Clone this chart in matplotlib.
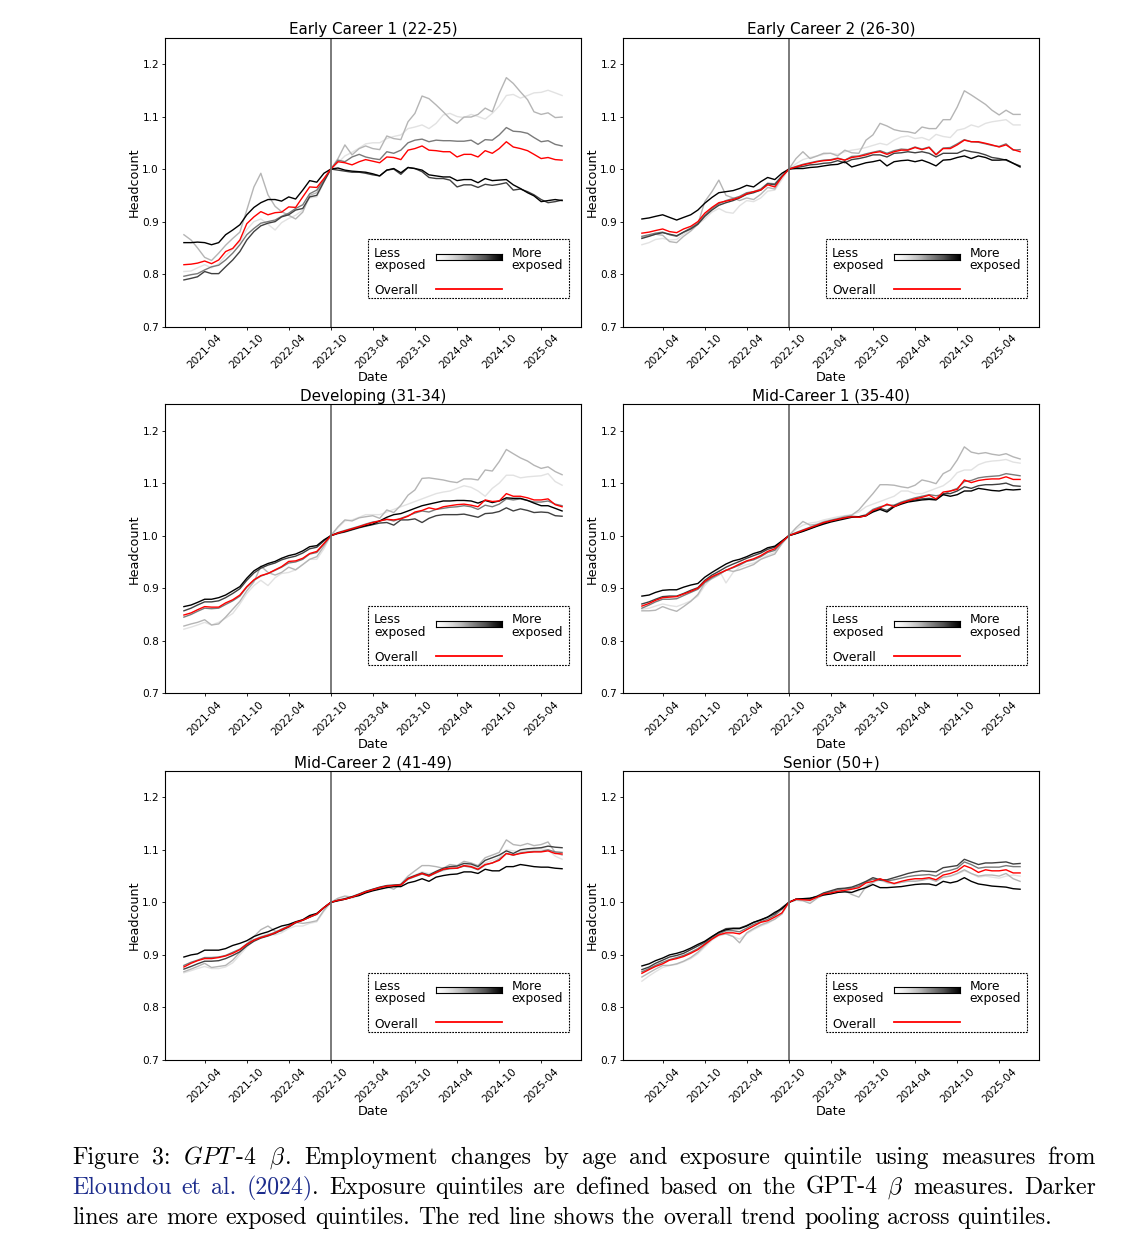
import numpy as np
import pandas as pd
import matplotlib
matplotlib.use("Agg")
import matplotlib.pyplot as plt
import matplotlib.dates as mdates
from matplotlib.patches import Rectangle
from matplotlib.lines import Line2D
from matplotlib.font_manager import FontProperties

plt.rcParams['mathtext.fontset'] = 'cm'

# --- eixos / rótulos ---
dates = pd.date_range('2021-01-01', periods=55, freq='MS')
tick_dates = pd.date_range('2021-04-01', '2025-04-01', freq='6MS')
release_date = pd.Timestamp('2022-10-01')
y_ticks = [0.7, 0.8, 0.9, 1.0, 1.1, 1.2]

panel_titles = ['Early Career 1 (22-25)', 'Early Career 2 (26-30)', 'Developing (31-34)',
                'Mid-Career 1 (35-40)', 'Mid-Career 2 (41-49)', 'Senior (50+)']

# --- dados (headcount normalizado, mensal 2021-01 .. 2025-07) ---
early1_q1 = [0.805, 0.806, 0.812, 0.818, 0.812, 0.820, 0.835, 0.848, 0.862, 0.885, 0.900,
             0.905, 0.895, 0.884, 0.898, 0.906, 0.912, 0.922, 0.945, 0.947, 0.975, 1.000,
             1.012, 1.025, 1.032, 1.040, 1.048, 1.050, 1.050, 1.058, 1.062, 1.065, 1.077,
             1.080, 1.084, 1.077, 1.087, 1.103, 1.106, 1.100, 1.098, 1.104, 1.100, 1.095,
             1.106, 1.120, 1.140, 1.142, 1.135, 1.140, 1.145, 1.146, 1.150, 1.145, 1.140]
early1_q2 = [0.875, 0.865, 0.850, 0.832, 0.826, 0.840, 0.855, 0.868, 0.880, 0.922, 0.966,
             0.992, 0.951, 0.929, 0.919, 0.912, 0.905, 0.918, 0.950, 0.955, 0.980, 1.000,
             1.020, 1.046, 1.027, 1.039, 1.044, 1.039, 1.037, 1.063, 1.058, 1.056, 1.090,
             1.106, 1.139, 1.134, 1.122, 1.109, 1.096, 1.087, 1.099, 1.099, 1.104, 1.116,
             1.109, 1.144, 1.174, 1.163, 1.147, 1.132, 1.109, 1.104, 1.107, 1.098, 1.099]
early1_q3 = [0.796, 0.799, 0.801, 0.808, 0.814, 0.817, 0.827, 0.840, 0.856, 0.875, 0.887,
             0.897, 0.900, 0.903, 0.910, 0.916, 0.925, 0.932, 0.953, 0.960, 0.979, 1.000,
             1.017, 1.014, 1.023, 1.028, 1.023, 1.020, 1.018, 1.033, 1.030, 1.036, 1.050,
             1.055, 1.057, 1.052, 1.055, 1.054, 1.054, 1.053, 1.053, 1.055, 1.047, 1.056,
             1.055, 1.065, 1.079, 1.072, 1.071, 1.068, 1.060, 1.052, 1.054, 1.047, 1.044]
early1_q4 = [0.789, 0.792, 0.795, 0.805, 0.801, 0.801, 0.814, 0.827, 0.843, 0.865, 0.881,
             0.892, 0.897, 0.900, 0.909, 0.913, 0.922, 0.925, 0.947, 0.950, 0.976, 1.000,
             0.998, 0.996, 0.994, 0.994, 0.992, 0.989, 0.987, 0.998, 1.000, 0.990, 1.003,
             1.001, 0.995, 0.984, 0.982, 0.982, 0.979, 0.966, 0.970, 0.970, 0.965, 0.971,
             0.969, 0.971, 0.974, 0.960, 0.962, 0.957, 0.951, 0.942, 0.936, 0.938, 0.941]
early1_q5 = [0.860, 0.860, 0.861, 0.860, 0.856, 0.860, 0.875, 0.884, 0.894, 0.913, 0.927,
             0.936, 0.942, 0.942, 0.939, 0.947, 0.943, 0.960, 0.978, 0.975, 0.992, 1.000,
             1.002, 0.998, 0.996, 0.995, 0.994, 0.991, 0.987, 0.998, 1.001, 0.993, 1.003,
             1.001, 0.998, 0.989, 0.987, 0.985, 0.985, 0.978, 0.980, 0.980, 0.974, 0.982,
             0.978, 0.979, 0.980, 0.970, 0.963, 0.955, 0.949, 0.938, 0.940, 0.942, 0.940]
early1_all = [0.818, 0.819, 0.821, 0.825, 0.820, 0.827, 0.843, 0.849, 0.865, 0.896, 0.909,
              0.919, 0.913, 0.917, 0.918, 0.928, 0.927, 0.947, 0.966, 0.965, 0.982, 1.000,
              1.014, 1.012, 1.008, 1.014, 1.018, 1.015, 1.012, 1.023, 1.022, 1.018, 1.036,
              1.039, 1.044, 1.036, 1.035, 1.033, 1.033, 1.023, 1.028, 1.028, 1.023, 1.035,
              1.030, 1.039, 1.052, 1.042, 1.039, 1.035, 1.028, 1.020, 1.022, 1.018, 1.017]

early2_q1 = [0.856, 0.860, 0.866, 0.868, 0.865, 0.866, 0.876, 0.885, 0.895, 0.905, 0.918,
             0.925, 0.918, 0.916, 0.930, 0.940, 0.938, 0.945, 0.958, 0.960, 0.980, 1.000,
             1.010, 1.018, 1.022, 1.025, 1.028, 1.030, 1.028, 1.033, 1.036, 1.038, 1.041,
             1.045, 1.049, 1.046, 1.055, 1.061, 1.063, 1.058, 1.060, 1.055, 1.066, 1.062,
             1.060, 1.074, 1.077, 1.084, 1.080, 1.087, 1.090, 1.092, 1.094, 1.084, 1.084]
early2_q2 = [0.870, 0.873, 0.876, 0.874, 0.862, 0.860, 0.872, 0.882, 0.895, 0.938, 0.957,
             0.979, 0.950, 0.945, 0.940, 0.945, 0.942, 0.952, 0.965, 0.962, 0.985, 1.000,
             1.020, 1.033, 1.020, 1.025, 1.030, 1.030, 1.025, 1.036, 1.031, 1.030, 1.055,
             1.065, 1.087, 1.082, 1.075, 1.072, 1.071, 1.068, 1.080, 1.077, 1.077, 1.094,
             1.094, 1.118, 1.149, 1.141, 1.132, 1.123, 1.112, 1.103, 1.112, 1.104, 1.104]
early2_q3 = [0.872, 0.875, 0.878, 0.880, 0.875, 0.872, 0.880, 0.888, 0.897, 0.912, 0.925,
             0.934, 0.940, 0.944, 0.948, 0.955, 0.957, 0.962, 0.973, 0.972, 0.987, 1.000,
             1.005, 1.009, 1.012, 1.015, 1.017, 1.018, 1.021, 1.017, 1.024, 1.025, 1.029,
             1.032, 1.035, 1.030, 1.035, 1.038, 1.037, 1.042, 1.038, 1.042, 1.028, 1.040,
             1.041, 1.048, 1.056, 1.052, 1.051, 1.048, 1.045, 1.043, 1.048, 1.036, 1.037]
early2_q4 = [0.868, 0.872, 0.876, 0.879, 0.876, 0.873, 0.880, 0.886, 0.895, 0.910, 0.922,
             0.931, 0.936, 0.940, 0.945, 0.952, 0.955, 0.960, 0.972, 0.970, 0.986, 1.000,
             1.003, 1.005, 1.008, 1.009, 1.011, 1.012, 1.016, 1.012, 1.018, 1.020, 1.023,
             1.027, 1.027, 1.023, 1.030, 1.031, 1.033, 1.031, 1.033, 1.030, 1.023, 1.030,
             1.030, 1.030, 1.036, 1.033, 1.031, 1.027, 1.022, 1.020, 1.017, 1.011, 1.006]
early2_q5 = [0.905, 0.907, 0.910, 0.913, 0.908, 0.903, 0.908, 0.913, 0.922, 0.935, 0.946,
             0.955, 0.957, 0.959, 0.963, 0.969, 0.966, 0.976, 0.984, 0.980, 0.992, 1.000,
             1.001, 1.001, 1.003, 1.004, 1.006, 1.008, 1.009, 1.014, 1.004, 1.008, 1.012,
             1.014, 1.017, 1.006, 1.014, 1.016, 1.017, 1.014, 1.017, 1.012, 1.006, 1.017,
             1.018, 1.022, 1.025, 1.020, 1.025, 1.022, 1.017, 1.017, 1.018, 1.011, 1.004]
early2_all = [0.878, 0.880, 0.883, 0.886, 0.881, 0.879, 0.886, 0.891, 0.900, 0.916, 0.927,
              0.936, 0.939, 0.942, 0.946, 0.953, 0.957, 0.960, 0.970, 0.966, 0.985, 1.000,
              1.004, 1.008, 1.011, 1.014, 1.016, 1.017, 1.020, 1.017, 1.022, 1.024, 1.027,
              1.031, 1.033, 1.028, 1.033, 1.036, 1.036, 1.041, 1.037, 1.041, 1.027, 1.039,
              1.039, 1.046, 1.055, 1.052, 1.052, 1.049, 1.046, 1.042, 1.046, 1.037, 1.033]

developing_q1 = [0.822, 0.826, 0.830, 0.835, 0.830, 0.835, 0.843, 0.852, 0.870, 0.890, 0.905,
                 0.915, 0.905, 0.920, 0.928, 0.930, 0.935, 0.945, 0.955, 0.955, 0.975, 1.000,
                 1.015, 1.028, 1.030, 1.035, 1.040, 1.040, 1.040, 1.045, 1.050, 1.055, 1.060,
                 1.065, 1.070, 1.075, 1.080, 1.083, 1.085, 1.090, 1.095, 1.092, 1.085, 1.075,
                 1.090, 1.100, 1.115, 1.115, 1.110, 1.112, 1.113, 1.114, 1.118, 1.103, 1.096]
developing_q2 = [0.828, 0.832, 0.835, 0.840, 0.830, 0.832, 0.845, 0.860, 0.875, 0.895, 0.912,
                 0.942, 0.930, 0.925, 0.930, 0.940, 0.935, 0.945, 0.955, 0.960, 0.980, 1.000,
                 1.017, 1.030, 1.028, 1.034, 1.036, 1.038, 1.033, 1.049, 1.044, 1.058, 1.077,
                 1.087, 1.109, 1.110, 1.108, 1.106, 1.103, 1.101, 1.108, 1.108, 1.106, 1.125,
                 1.123, 1.141, 1.164, 1.156, 1.148, 1.142, 1.134, 1.128, 1.131, 1.122, 1.116]
developing_q3 = [0.845, 0.850, 0.856, 0.862, 0.861, 0.862, 0.869, 0.876, 0.885, 0.902, 0.915,
                 0.923, 0.928, 0.934, 0.940, 0.948, 0.950, 0.955, 0.965, 0.968, 0.984, 1.000,
                 1.006, 1.010, 1.014, 1.018, 1.022, 1.026, 1.028, 1.031, 1.028, 1.033, 1.038,
                 1.043, 1.047, 1.045, 1.050, 1.052, 1.054, 1.055, 1.057, 1.055, 1.050, 1.058,
                 1.055, 1.060, 1.070, 1.068, 1.070, 1.067, 1.064, 1.064, 1.066, 1.060, 1.057]
developing_q4 = [0.857, 0.862, 0.868, 0.874, 0.874, 0.876, 0.882, 0.890, 0.899, 0.915, 0.929,
                 0.938, 0.944, 0.948, 0.954, 0.958, 0.961, 0.967, 0.975, 0.978, 0.990, 1.000,
                 1.004, 1.007, 1.011, 1.015, 1.018, 1.021, 1.024, 1.025, 1.020, 1.030, 1.030,
                 1.032, 1.025, 1.033, 1.038, 1.040, 1.040, 1.040, 1.041, 1.038, 1.035, 1.042,
                 1.043, 1.046, 1.053, 1.047, 1.051, 1.048, 1.044, 1.045, 1.044, 1.038, 1.037]
developing_q5 = [0.865, 0.868, 0.873, 0.879, 0.879, 0.882, 0.887, 0.895, 0.903, 0.919, 0.933,
                 0.941, 0.947, 0.951, 0.957, 0.962, 0.965, 0.971, 0.979, 0.981, 0.992, 1.000,
                 1.005, 1.008, 1.012, 1.016, 1.019, 1.022, 1.028, 1.035, 1.040, 1.042, 1.047,
                 1.052, 1.057, 1.060, 1.063, 1.066, 1.066, 1.067, 1.067, 1.066, 1.062, 1.067,
                 1.063, 1.066, 1.072, 1.071, 1.071, 1.067, 1.062, 1.057, 1.057, 1.052, 1.047]
developing_all = [0.849, 0.853, 0.859, 0.865, 0.864, 0.864, 0.872, 0.878, 0.887, 0.903, 0.916,
                  0.924, 0.928, 0.935, 0.941, 0.951, 0.952, 0.957, 0.966, 0.970, 0.985, 1.000,
                  1.005, 1.009, 1.013, 1.017, 1.021, 1.025, 1.028, 1.031, 1.030, 1.032, 1.037,
                  1.045, 1.048, 1.053, 1.050, 1.055, 1.057, 1.059, 1.060, 1.058, 1.055, 1.068,
                  1.065, 1.066, 1.080, 1.075, 1.075, 1.072, 1.068, 1.068, 1.070, 1.059, 1.055]

mid1_q1 = [0.860, 0.862, 0.866, 0.870, 0.867, 0.865, 0.870, 0.876, 0.885, 0.905, 0.920,
           0.935, 0.910, 0.930, 0.940, 0.945, 0.948, 0.955, 0.963, 0.968, 0.984, 1.000,
           1.012, 1.020, 1.024, 1.026, 1.030, 1.033, 1.036, 1.038, 1.040, 1.045, 1.055,
           1.060, 1.065, 1.070, 1.075, 1.085, 1.085, 1.080, 1.080, 1.085, 1.090, 1.095,
           1.105, 1.120, 1.125, 1.125, 1.135, 1.140, 1.142, 1.143, 1.145, 1.140, 1.138]
mid1_q2 = [0.857, 0.857, 0.858, 0.865, 0.860, 0.856, 0.865, 0.875, 0.888, 0.910, 0.918,
           0.925, 0.935, 0.932, 0.935, 0.940, 0.945, 0.955, 0.960, 0.965, 0.985, 1.000,
           1.015, 1.027, 1.020, 1.022, 1.027, 1.030, 1.033, 1.037, 1.039, 1.049, 1.065,
           1.080, 1.097, 1.097, 1.096, 1.093, 1.091, 1.096, 1.106, 1.103, 1.099, 1.118,
           1.125, 1.144, 1.169, 1.159, 1.156, 1.158, 1.155, 1.153, 1.156, 1.150, 1.146]
mid1_q3 = [0.862, 0.868, 0.874, 0.879, 0.879, 0.880, 0.886, 0.892, 0.898, 0.911, 0.920,
           0.927, 0.934, 0.939, 0.944, 0.951, 0.954, 0.960, 0.968, 0.972, 0.987, 1.000,
           1.006, 1.011, 1.016, 1.021, 1.025, 1.029, 1.032, 1.035, 1.037, 1.036, 1.040,
           1.050, 1.055, 1.058, 1.058, 1.064, 1.068, 1.072, 1.075, 1.078, 1.076, 1.078,
           1.085, 1.090, 1.103, 1.105, 1.110, 1.112, 1.113, 1.114, 1.118, 1.116, 1.114]
mid1_q4 = [0.870, 0.874, 0.879, 0.884, 0.885, 0.885, 0.890, 0.896, 0.901, 0.915, 0.925,
           0.932, 0.940, 0.946, 0.951, 0.957, 0.962, 0.967, 0.974, 0.978, 0.989, 1.000,
           1.004, 1.009, 1.014, 1.019, 1.024, 1.028, 1.031, 1.034, 1.036, 1.035, 1.038,
           1.047, 1.052, 1.048, 1.057, 1.062, 1.066, 1.068, 1.070, 1.071, 1.069, 1.080,
           1.080, 1.085, 1.093, 1.090, 1.095, 1.097, 1.097, 1.098, 1.100, 1.095, 1.094]
mid1_q5 = [0.885, 0.887, 0.892, 0.896, 0.897, 0.897, 0.902, 0.906, 0.909, 0.921, 0.930,
           0.938, 0.946, 0.952, 0.955, 0.960, 0.966, 0.970, 0.977, 0.980, 0.990, 1.000,
           1.004, 1.008, 1.013, 1.018, 1.022, 1.026, 1.029, 1.032, 1.035, 1.036, 1.038,
           1.045, 1.050, 1.045, 1.055, 1.060, 1.064, 1.066, 1.068, 1.069, 1.068, 1.078,
           1.075, 1.078, 1.085, 1.085, 1.090, 1.088, 1.086, 1.085, 1.088, 1.087, 1.088]
mid1_all = [0.866, 0.871, 0.877, 0.882, 0.883, 0.884, 0.889, 0.894, 0.900, 0.913, 0.922,
            0.928, 0.934, 0.940, 0.946, 0.952, 0.956, 0.962, 0.970, 0.975, 0.988, 1.000,
            1.005, 1.010, 1.015, 1.020, 1.025, 1.028, 1.031, 1.034, 1.036, 1.035, 1.038,
            1.048, 1.053, 1.060, 1.055, 1.062, 1.066, 1.070, 1.073, 1.077, 1.070, 1.083,
            1.085, 1.088, 1.106, 1.101, 1.105, 1.107, 1.108, 1.108, 1.112, 1.107, 1.107]

mid2_q1 = [0.866, 0.870, 0.874, 0.878, 0.874, 0.874, 0.877, 0.885, 0.900, 0.915, 0.928,
           0.935, 0.940, 0.938, 0.942, 0.950, 0.955, 0.955, 0.960, 0.963, 0.983, 1.000,
           1.006, 1.008, 1.008, 1.013, 1.019, 1.023, 1.026, 1.029, 1.028, 1.034, 1.046,
           1.052, 1.058, 1.055, 1.058, 1.060, 1.065, 1.066, 1.070, 1.070, 1.066, 1.075,
           1.080, 1.085, 1.100, 1.098, 1.096, 1.100, 1.101, 1.102, 1.100, 1.088, 1.082]
mid2_q2 = [0.868, 0.873, 0.878, 0.884, 0.876, 0.878, 0.880, 0.890, 0.905, 0.920, 0.935,
           0.948, 0.955, 0.945, 0.945, 0.955, 0.962, 0.960, 0.962, 0.965, 0.985, 1.000,
           1.008, 1.012, 1.010, 1.015, 1.020, 1.025, 1.028, 1.030, 1.025, 1.035, 1.050,
           1.060, 1.070, 1.070, 1.068, 1.065, 1.072, 1.070, 1.078, 1.075, 1.070, 1.085,
           1.090, 1.095, 1.119, 1.110, 1.108, 1.112, 1.108, 1.110, 1.115, 1.095, 1.090]
mid2_q3 = [0.880, 0.886, 0.890, 0.895, 0.895, 0.896, 0.899, 0.905, 0.911, 0.921, 0.929,
           0.934, 0.938, 0.943, 0.949, 0.955, 0.962, 0.966, 0.972, 0.977, 0.990, 1.000,
           1.004, 1.006, 1.010, 1.015, 1.020, 1.024, 1.028, 1.031, 1.032, 1.033, 1.044,
           1.049, 1.054, 1.050, 1.056, 1.062, 1.064, 1.065, 1.069, 1.067, 1.062, 1.071,
           1.075, 1.082, 1.093, 1.090, 1.094, 1.096, 1.097, 1.097, 1.100, 1.096, 1.095]
mid2_q4 = [0.873, 0.878, 0.883, 0.888, 0.888, 0.889, 0.893, 0.899, 0.906, 0.917, 0.926,
           0.932, 0.936, 0.941, 0.947, 0.953, 0.961, 0.966, 0.972, 0.978, 0.990, 1.000,
           1.004, 1.007, 1.011, 1.016, 1.021, 1.025, 1.029, 1.032, 1.033, 1.034, 1.046,
           1.051, 1.056, 1.052, 1.059, 1.065, 1.068, 1.069, 1.074, 1.073, 1.068, 1.080,
           1.085, 1.090, 1.098, 1.093, 1.100, 1.102, 1.103, 1.104, 1.107, 1.105, 1.104]
mid2_q5 = [0.896, 0.900, 0.902, 0.909, 0.909, 0.909, 0.912, 0.918, 0.922, 0.927, 0.935,
           0.940, 0.944, 0.950, 0.955, 0.958, 0.963, 0.967, 0.975, 0.979, 0.990, 1.000,
           1.003, 1.006, 1.010, 1.013, 1.018, 1.022, 1.025, 1.028, 1.030, 1.030, 1.037,
           1.040, 1.045, 1.040, 1.048, 1.051, 1.053, 1.054, 1.058, 1.058, 1.055, 1.063,
           1.060, 1.060, 1.068, 1.068, 1.072, 1.070, 1.068, 1.067, 1.067, 1.065, 1.064]
mid2_all = [0.877, 0.884, 0.889, 0.893, 0.893, 0.895, 0.898, 0.903, 0.910, 0.920, 0.928,
            0.933, 0.937, 0.942, 0.948, 0.954, 0.962, 0.966, 0.972, 0.978, 0.990, 1.000,
            1.004, 1.006, 1.010, 1.015, 1.020, 1.024, 1.028, 1.031, 1.032, 1.033, 1.045,
            1.050, 1.055, 1.050, 1.057, 1.063, 1.065, 1.065, 1.070, 1.068, 1.063, 1.072,
            1.075, 1.080, 1.093, 1.090, 1.093, 1.095, 1.096, 1.096, 1.098, 1.093, 1.092]

senior_q1 = [0.850, 0.860, 0.868, 0.876, 0.880, 0.882, 0.887, 0.893, 0.902, 0.915, 0.928,
             0.936, 0.940, 0.935, 0.930, 0.940, 0.948, 0.955, 0.960, 0.968, 0.978, 1.000,
             1.005, 1.004, 1.001, 1.009, 1.015, 1.018, 1.020, 1.022, 1.018, 1.022, 1.032,
             1.038, 1.042, 1.037, 1.036, 1.039, 1.041, 1.042, 1.043, 1.046, 1.041, 1.048,
             1.050, 1.054, 1.060, 1.055, 1.048, 1.050, 1.048, 1.046, 1.050, 1.052, 1.050]
senior_q2 = [0.858, 0.866, 0.873, 0.880, 0.880, 0.883, 0.888, 0.895, 0.905, 0.918, 0.930,
             0.938, 0.940, 0.935, 0.923, 0.942, 0.950, 0.957, 0.962, 0.968, 0.978, 1.000,
             1.004, 1.003, 0.998, 1.008, 1.014, 1.017, 1.019, 1.022, 1.015, 1.010, 1.030,
             1.038, 1.045, 1.038, 1.035, 1.038, 1.040, 1.040, 1.042, 1.045, 1.040, 1.048,
             1.050, 1.055, 1.062, 1.055, 1.050, 1.052, 1.052, 1.050, 1.055, 1.045, 1.040]
senior_q3 = [0.868, 0.874, 0.880, 0.886, 0.891, 0.895, 0.899, 0.905, 0.912, 0.921, 0.931,
             0.940, 0.946, 0.946, 0.944, 0.951, 0.958, 0.963, 0.968, 0.975, 0.987, 1.000,
             1.006, 1.006, 1.005, 1.011, 1.017, 1.020, 1.024, 1.026, 1.027, 1.031, 1.039,
             1.044, 1.042, 1.041, 1.043, 1.046, 1.049, 1.051, 1.052, 1.053, 1.050, 1.058,
             1.061, 1.065, 1.077, 1.072, 1.065, 1.067, 1.067, 1.067, 1.070, 1.068, 1.068]
senior_q4 = [0.872, 0.877, 0.884, 0.890, 0.896, 0.899, 0.903, 0.910, 0.917, 0.924, 0.934,
             0.943, 0.950, 0.951, 0.951, 0.956, 0.962, 0.966, 0.972, 0.978, 0.990, 1.000,
             1.006, 1.007, 1.007, 1.012, 1.018, 1.022, 1.026, 1.027, 1.029, 1.034, 1.040,
             1.047, 1.043, 1.043, 1.047, 1.051, 1.055, 1.058, 1.060, 1.059, 1.058, 1.066,
             1.068, 1.070, 1.082, 1.077, 1.072, 1.075, 1.075, 1.076, 1.077, 1.073, 1.074]
senior_q5 = [0.879, 0.883, 0.889, 0.894, 0.900, 0.903, 0.907, 0.913, 0.920, 0.926, 0.935,
             0.943, 0.948, 0.950, 0.950, 0.955, 0.962, 0.967, 0.972, 0.981, 0.988, 1.000,
             1.006, 1.007, 1.008, 1.011, 1.014, 1.016, 1.019, 1.020, 1.019, 1.024, 1.028,
             1.034, 1.028, 1.028, 1.029, 1.030, 1.032, 1.034, 1.035, 1.035, 1.032, 1.040,
             1.037, 1.040, 1.047, 1.040, 1.035, 1.033, 1.031, 1.030, 1.029, 1.026, 1.025]
senior_all = [0.865, 0.872, 0.878, 0.883, 0.890, 0.893, 0.897, 0.903, 0.910, 0.920, 0.930,
              0.938, 0.942, 0.942, 0.940, 0.948, 0.955, 0.962, 0.965, 0.972, 0.980, 1.000,
              1.006, 1.005, 1.004, 1.010, 1.016, 1.018, 1.021, 1.023, 1.025, 1.028, 1.037,
              1.040, 1.045, 1.040, 1.036, 1.040, 1.043, 1.045, 1.045, 1.047, 1.043, 1.052,
              1.055, 1.060, 1.070, 1.065, 1.057, 1.062, 1.060, 1.060, 1.062, 1.056, 1.056]

quintiles = [
    [early1_q1, early1_q2, early1_q3, early1_q4, early1_q5],
    [early2_q1, early2_q2, early2_q3, early2_q4, early2_q5],
    [developing_q1, developing_q2, developing_q3, developing_q4, developing_q5],
    [mid1_q1, mid1_q2, mid1_q3, mid1_q4, mid1_q5],
    [mid2_q1, mid2_q2, mid2_q3, mid2_q4, mid2_q5],
    [senior_q1, senior_q2, senior_q3, senior_q4, senior_q5],
]
overall = [early1_all, early2_all, developing_all, mid1_all, mid2_all, senior_all]

# --- layout (pixels) ---
W, H = 1132, 1258
col_left = [165, 623]
row_top = [37.7, 404.3, 771.0]
ax_w, ax_h = 416, 289

shade = plt.cm.Greys(np.linspace(0.2, 1.0, 5))


def draw_key(ax):
    box = Rectangle((0.489, 0.098), 0.482, 0.204, transform=ax.transAxes,
                    facecolor='white', edgecolor='black', lw=0.8,
                    ls=(0, (1.6, 1.0)), zorder=5)
    ax.add_artist(box)
    kw = dict(transform=ax.transAxes, fontsize=8.8, va='baseline', ha='left', zorder=6)
    ax.text(0.503, 0.242, 'Less', **kw)
    ax.text(0.503, 0.199, 'exposed', **kw)
    ax.text(0.833, 0.242, 'More', **kw)
    ax.text(0.833, 0.199, 'exposed', **kw)
    ax.text(0.503, 0.112, 'Overall', **kw)
    bar = ax.inset_axes([0.652, 0.231, 0.157, 0.0206])
    bar.imshow(np.linspace(0, 1, 256)[None, :], cmap='Greys', aspect='auto',
               extent=[0, 1, 0, 1])
    bar.set_xticks([])
    bar.set_yticks([])
    for s in bar.spines.values():
        s.set_linewidth(0.8)
    bar.set_zorder(7)
    ax.add_artist(Line2D([0.652, 0.809], [0.130, 0.130], transform=ax.transAxes,
                         color='red', lw=1.3, zorder=6))


fig = plt.figure(figsize=(W / 100, H / 100), dpi=100)

for i, title in enumerate(panel_titles):
    r, c = divmod(i, 2)
    ax = fig.add_axes([col_left[c] / W, 1 - (row_top[r] + ax_h) / H, ax_w / W, ax_h / H])
    for q, col in zip(quintiles[i], shade):
        ax.plot(dates[:len(q)], q, color=col, lw=1.0)
    ax.plot(dates[:len(overall[i])], overall[i], color='red', lw=1.0)
    ax.axvline(release_date, color='#6f6f6f', lw=1.3)
    ax.set_ylim(0.7, 1.25)
    ax.set_yticks(y_ticks)
    ax.set_xticks(tick_dates)
    ax.xaxis.set_major_formatter(mdates.DateFormatter('%Y-%m'))
    ax.tick_params(labelsize=7.6, length=2.5, width=0.6, pad=1.8)
    plt.setp(ax.get_xticklabels(), rotation=45)
    ax.set_title(title, fontsize=10.9, pad=2.5)
    ax.set_xlabel('Date', fontsize=9.2, labelpad=0.5)
    ax.set_ylabel('Headcount', fontsize=9.2, labelpad=1)
    for s in ax.spines.values():
        s.set_linewidth(0.8)
    draw_key(ax)

# --- legenda da figura (texto justificado) ---
renderer = fig.canvas.get_renderer()


def seg_width(text, size):
    fp = FontProperties(family='cmr10', size=size)
    w, h, d = renderer.get_text_width_height_descent(text, fp, ismath=text.startswith('$'))
    return w


def words(s, color='black'):
    return [[(w, color)] for w in s.split()]


BLUE = '#1c2c8c'
cap_lines = [
    words('Figure 3:') + [[(r'$\mathit{GPT}$', 'black'), ('-', 'black'), (r'$\mathit{4}$', 'black')],
                          [(r'$\beta$', 'black'), ('.', 'black')]]
    + words('Employment changes by age and exposure quintile using measures from'),
    words('Eloundou et al.', BLUE) + [[('(2024)', BLUE), ('.', 'black')]]
    + words('Exposure quintiles are defined based on the GPT-4') + [[(r'$\beta$', 'black')]]
    + words('measures. Darker'),
    words('lines are more exposed quintiles. The red line shows the overall trend pooling across quintiles.'),
]
cap_justify = [True, True, False]
cap_base = [1164, 1194, 1224]
cap_left, cap_right = 72, 1096
last_width = 982


def word_w(word, size):
    return sum(seg_width(t, size) for t, col in word)


space10 = seg_width('a a', 10) - seg_width('aa', 10)
nat = sum(word_w(w, 10) for w in cap_lines[2]) + space10 * (len(cap_lines[2]) - 1)
size = 10 * last_width / nat
space = space10 * size / 10

for line, just, yb in zip(cap_lines, cap_justify, cap_base):
    widths = [word_w(w, size) for w in line]
    if just:
        gap = (cap_right - cap_left - sum(widths)) / (len(line) - 1)
    else:
        gap = space
    x = cap_left
    for word, ww in zip(line, widths):
        xs = x
        for t, col in word:
            fig.text(xs / W, 1 - yb / H, t, color=col, va='baseline', ha='left',
                     fontproperties=FontProperties(family='cmr10', size=size))
            xs += seg_width(t, size)
        x += ww + gap

fig.savefig('out.png', dpi=100)
